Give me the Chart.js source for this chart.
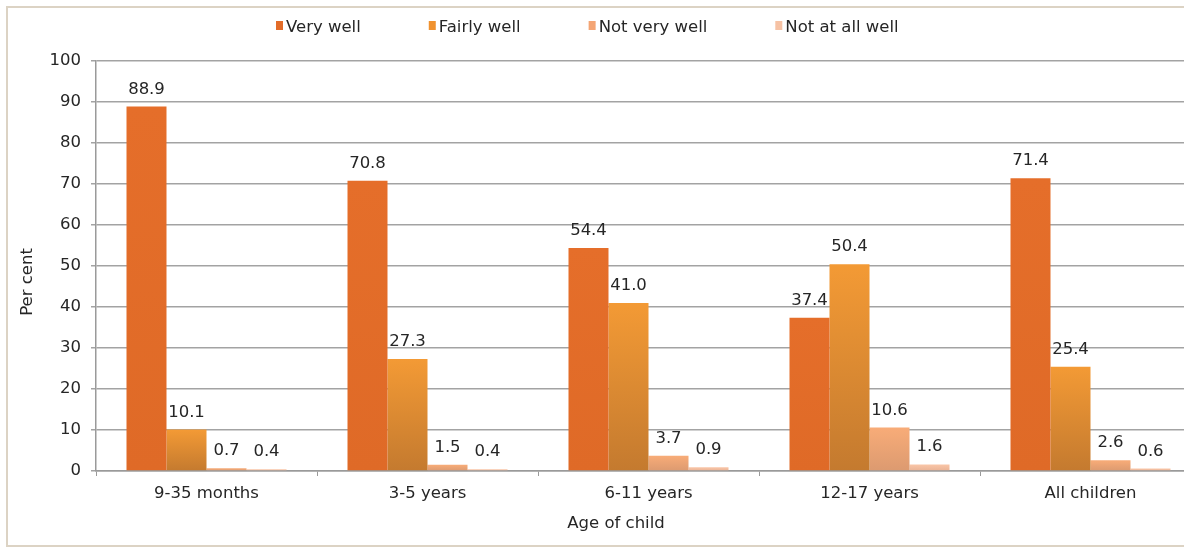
<!DOCTYPE html>
<html>
<head>
<meta charset="utf-8">
<script src="https://cdn.jsdelivr.net/npm/chart.js@4"></script>
<style>
  html, body { margin: 0; padding: 0; background: #fff; overflow: hidden; }
  #frame { position: absolute; left: 6px; top: 6px; width: 1300px; height: 537px; border: 2px solid #dcd3c4; border-right: none; }
  #wrap { position: absolute; left: 0; top: 0; width: 1210px; height: 548px; }
</style>
</head>
<body>
<div id="frame"></div>
<div id="wrap"><canvas id="chart"></canvas></div>
<script>
const categories = ["9-35 months", "3-5 years", "6-11 years", "12-17 years", "All children"];
const veryWell = [88.9, 70.8, 54.4, 37.4, 71.4];
const fairlyWell = [10.1, 27.3, 41.0, 50.4, 25.4];
const notVeryWell = [0.7, 1.5, 3.7, 10.6, 2.6];
const notAtAllWell = [0.4, 0.4, 0.9, 1.6, 0.6];
const yMin = 0, yMax = 100, yStep = 10;
const xTitle = "Age of child";
const yTitle = "Per cent";

const textColor = "#262626";
const font = { family: '"DejaVu Sans", sans-serif', size: 16.5 };
const fontCss = `${font.size}px ${font.family}`;
Chart.defaults.font.family = font.family;

// per-bar vertical gradient, bright at the top, darker at the base
const shade = (top, bottom) => (ctx) => {
    const chart = ctx.chart;
    const y = chart.scales.y;
    if (ctx.type !== "data" || !y || !chart.chartArea) return top;
    const y0 = y.getPixelForValue(ctx.raw);
    const y1 = y.getPixelForValue(0);
    if (!(y1 > y0)) return top;
    const g = chart.ctx.createLinearGradient(0, y0, 0, y1);
    g.addColorStop(0, top);
    g.addColorStop(1, bottom);
    return g;
};

const valueLabels = {
    id: "valueLabels",
    afterDatasetsDraw(chart) {
        const { ctx } = chart;
        ctx.save();
        ctx.font = fontCss;
        ctx.fillStyle = textColor;
        ctx.textAlign = "center";
        ctx.textBaseline = "alphabetic";
        chart.data.datasets.forEach((ds, i) => {
            chart.getDatasetMeta(i).data.forEach((bar, j) => {
                ctx.fillText(ds.data[j].toFixed(1), bar.x, bar.y - 13);
            });
        });
        ctx.restore();
    }
};

// legend row and axis titles, placed as in the original figure
const extras = {
    id: "extras",
    afterDraw(chart) {
        const { ctx } = chart;
        ctx.save();
        ctx.font = fontCss;
        ctx.textBaseline = "middle";
        let x = 276;
        const y = 28;
        chart.data.datasets.forEach((ds) => {
            ctx.fillStyle = ds.legendColor;
            ctx.fillRect(x, y - 7, 7, 9);
            ctx.fillStyle = textColor;
            ctx.textAlign = "left";
            ctx.fillText(ds.label, x + 10, y);
            x += 10 + ctx.measureText(ds.label).width + 68;
        });

        ctx.textAlign = "center";
        ctx.fillText(xTitle, 616, 524);

        ctx.translate(28, 282);
        ctx.rotate(-Math.PI / 2);
        ctx.fillText(yTitle, 0, 0);
        ctx.restore();
    }
};

new Chart(document.getElementById("chart"), {
    type: "bar",
    data: {
        labels: categories,
        datasets: [
            { label: "Very well", data: veryWell, legendColor: "#e36c29", backgroundColor: shade("#e56e2a", "#df6a27") },
            { label: "Fairly well", data: fairlyWell, legendColor: "#f0922f", backgroundColor: shade("#f39a35", "#c47a2f") },
            { label: "Not very well", data: notVeryWell, legendColor: "#f4a574", backgroundColor: shade("#f8ac78", "#dc9a70") },
            { label: "Not at all well", data: notAtAllWell, legendColor: "#f6c2a4", backgroundColor: shade("#f9c6a8", "#eab294") }
        ]
    },
    options: {
        responsive: true,
        maintainAspectRatio: false,
        animation: false,
        barPercentage: 1,
        categoryPercentage: 0.724,
        layout: { padding: { top: 61, right: 9, left: 0, bottom: 0 } },
        plugins: { legend: { display: false }, tooltip: { enabled: false } },
        scales: {
            x: {
                grid: { offset: true, drawOnChartArea: false, drawTicks: true, tickLength: 5, color: "#9a9a9a" },
                border: { color: "#9a9a9a", width: 1.5 },
                ticks: { font, color: textColor, padding: 8 },
                afterFit: (s) => { s.height = 77; }
            },
            y: {
                min: yMin,
                max: yMax,
                ticks: { stepSize: yStep, font, color: textColor, padding: 10 },
                grid: { color: "#a3a3a3", lineWidth: 1.5, tickLength: 5 },
                border: { color: "#9a9a9a", width: 1.5 },
                afterFit: (s) => { s.width = 96; }
            }
        }
    },
    plugins: [valueLabels, extras]
});
</script>
</body>
</html>
